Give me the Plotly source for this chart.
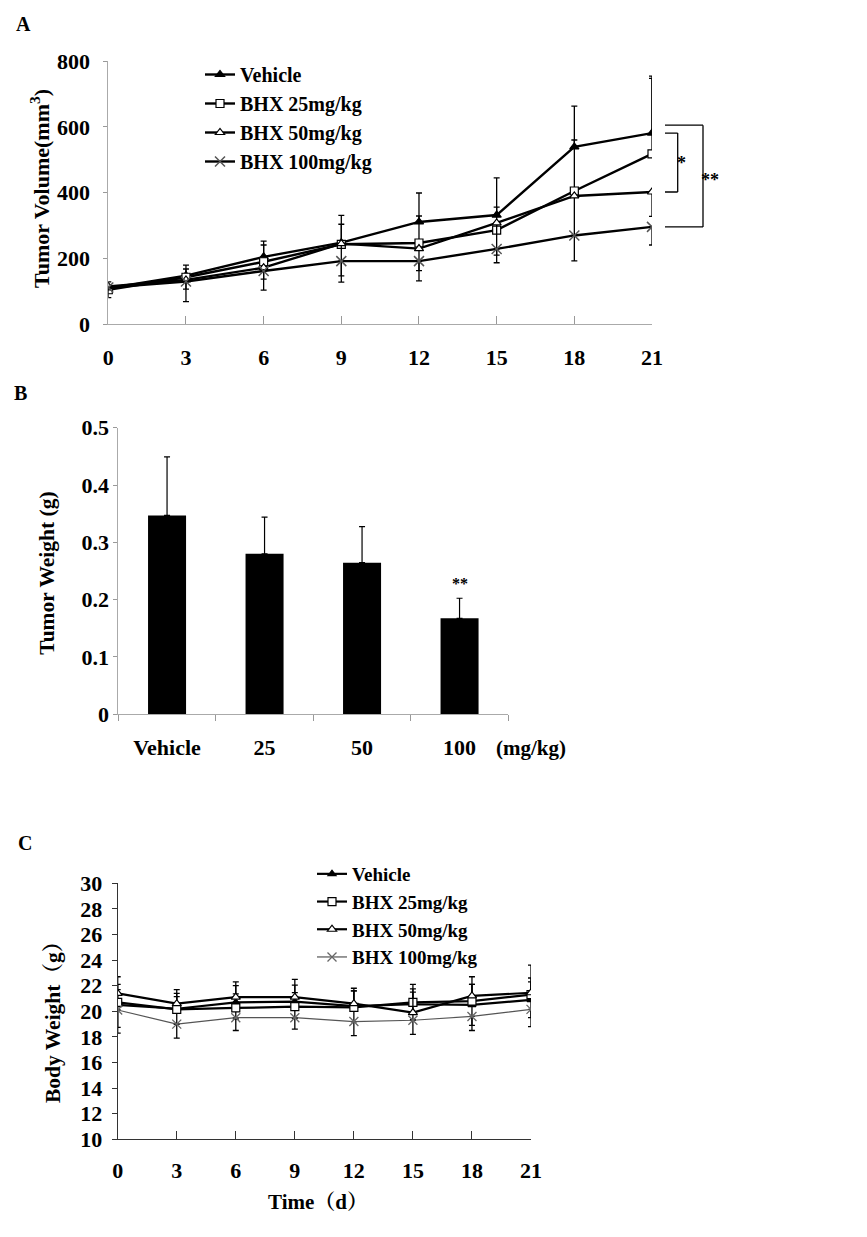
import plotly.graph_objects as go

W, H = 867, 1237
OFF = 8  # page body margin
FONT = "Liberation Serif, Times New Roman, Noto Serif CJK SC, Noto Sans CJK SC, serif"

# ---------------- Data ----------------
days = [0, 3, 6, 9, 12, 15, 18, 21]
series_names = ["Vehicle", "BHX 25mg/kg", "BHX 50mg/kg", "BHX 100mg/kg"]

# Panel A: tumor volume (mm3)
vol_vehicle = [110, 148, 205, 248, 311, 332, 539, 581]
vol_bhx25 = [105, 143, 190, 243, 247, 286, 405, 518]
vol_bhx50 = [115, 135, 172, 245, 230, 308, 390, 402]
vol_bhx100 = [112, 130, 162, 192, 192, 229, 270, 296]
vol_err_vehicle = [19, 32, 48, 83, 88, 113, 124, 173]      # plus
vol_err_bhx25 = [15, 25, 51, 61, 82, 70, 155, 229]         # plus
vol_err_bhx50 = [10, 28, 35, 98, 67, 98, 120, 74]          # minus
vol_err_bhx100 = [31, 61, 58, 64, 60, 42, 77, 55]          # minus

# Panel B: tumor weight (g)
groups = ["Vehicle", "25", "50", "100"]
weight_mean = [0.347, 0.280, 0.2645, 0.1675]
weight_err = [0.102, 0.064, 0.063, 0.035]

# Panel C: body weight (g)
bw_vehicle = [20.5, 20.2, 20.7, 20.75, 20.4, 20.55, 20.5, 20.9]
bw_bhx25 = [20.7, 20.15, 20.26, 20.36, 20.3, 20.7, 20.8, 21.3]
bw_bhx50 = [21.4, 20.6, 21.1, 21.1, 20.6, 19.9, 21.2, 21.45]
bw_bhx100 = [20.1, 19.0, 19.5, 19.5, 19.2, 19.3, 19.6, 20.15]
bw_err_vehicle = [2.2, 1.2, 1.3, 1.3, 1.2, 1.2, 1.6, 1.4]
bw_err_bhx25 = [1.0, 1.0, 1.1, 1.1, 1.3, 1.4, 1.3, 1.3]
bw_err_bhx50 = [0.7, 1.1, 1.2, 1.4, 1.2, 1.6, 1.5, 2.15]
bw_err_bhx100 = [1.35, 1.1, 1.0, 0.9, 1.1, 1.1, 1.1, 1.35]

# ---------------- helpers ----------------
def px(x):
    return (x - OFF) / W

def py(y):
    return 1 - (y - OFF) / H

fig = go.Figure()

def add_line(x, y, name, symbol, mcolor, lcolor, lw, xa, ya, legend, err_plus=None, err_minus=None,
             msize=8, mline=1.2, errsym=False, ecolor="black"):
    ey = None
    if err_plus is not None or err_minus is not None:
        if errsym:
            ey = dict(type="data", array=err_plus, symmetric=True, color=ecolor, thickness=1.3, width=3)
        else:
            ey = dict(type="data", symmetric=False,
                      array=err_plus if err_plus is not None else [0] * len(x),
                      arrayminus=err_minus if err_minus is not None else [0] * len(x),
                      color=ecolor, thickness=1.3, width=3)
    fig.add_trace(go.Scatter(
        x=x, y=y, name=name, mode="lines+markers",
        line=dict(color=lcolor, width=lw),
        marker=dict(symbol=symbol, size=msize, color=mcolor,
                    line=dict(color="black" if "x" not in symbol else mcolor, width=mline)),
        error_y=ey, xaxis=xa, yaxis=ya, legend=legend,
    ))

# Panel A
add_line(days, vol_vehicle, series_names[0], "triangle-up", "black", "black", 2.4, "x", "y", "legend",
         err_plus=vol_err_vehicle, msize=8)
add_line(days, vol_bhx25, series_names[1], "square", "white", "black", 2.4, "x", "y", "legend",
         err_plus=vol_err_bhx25, msize=8)
add_line(days, vol_bhx50, series_names[2], "triangle-up", "white", "black", 2.4, "x", "y", "legend",
         err_minus=vol_err_bhx50, msize=8)
add_line(days, vol_bhx100, series_names[3], "x-thin-open", "#555555", "black", 2.4, "x", "y", "legend",
         err_minus=vol_err_bhx100, msize=10, mline=1.5)

# Panel B
fig.add_trace(go.Bar(
    x=groups, y=weight_mean, marker=dict(color="black", line=dict(width=0)), width=0.39,
    error_y=dict(type="data", array=weight_err, arrayminus=[0] * 4, symmetric=False,
                 color="black", thickness=1.2, width=3),
    xaxis="x2", yaxis="y2", showlegend=False,
))

# Panel C
add_line(days, bw_vehicle, series_names[0], "triangle-up", "black", "black", 2.2, "x3", "y3", "legend2",
         err_plus=bw_err_vehicle, errsym=True, msize=7)
add_line(days, bw_bhx25, series_names[1], "square", "white", "black", 2.2, "x3", "y3", "legend2",
         err_plus=bw_err_bhx25, msize=8)
add_line(days, bw_bhx50, series_names[2], "triangle-up", "white", "black", 2.2, "x3", "y3", "legend2",
         err_plus=bw_err_bhx50, msize=8)
add_line(days, bw_bhx100, series_names[3], "x-thin-open", "#666666", "#555555", 1.2, "x3", "y3", "legend2",
         err_minus=bw_err_bhx100, msize=9, mline=1.3)

tickfont = dict(family=FONT, size=22, color="black", weight="bold")
common = dict(showgrid=False, zeroline=False, showline=True, linewidth=1, tickfont=tickfont,
              automargin=False)

fig.update_layout(
    width=W, height=H, margin=dict(l=0, r=0, t=0, b=0, autoexpand=False),
    paper_bgcolor="white", plot_bgcolor="white",
    font=dict(family=FONT, color="black"),
    # Panel A axes
    xaxis=dict(domain=[px(108.3), px(652)], range=[0, 21], tickvals=days, anchor="y",
               ticks="inside", ticklen=8, tickcolor="#999", linecolor="#aaa",
               ticklabelstandoff=13, **common),
    yaxis=dict(domain=[py(324.3), py(61)], range=[0, 800], dtick=200, anchor="x",
               ticks="outside", ticklen=4, tickcolor="#999", linecolor="#aaa",
               ticklabelstandoff=9, **common),
    # Panel B axes
    xaxis2=dict(domain=[px(118.3), px(508.3)], type="category", range=[-0.5, 3.5], anchor="y2",
                tickson="boundaries", ticks="outside", ticklen=6, tickcolor="#999", linecolor="#aaa",
                ticklabelstandoff=13, **common),
    yaxis2=dict(domain=[py(714.3), py(427.7)], range=[0, 0.5], dtick=0.1, anchor="x2",
                ticks="outside", ticklen=4, tickcolor="#999", linecolor="#aaa",
                ticklabelstandoff=0, **common),
    # Panel C axes
    xaxis3=dict(domain=[px(117.7), px(531)], range=[0, 21], tickvals=days, anchor="y3",
                ticks="inside", ticklen=8, tickcolor="#333", linecolor="#333",
                ticklabelstandoff=11, **common),
    yaxis3=dict(domain=[py(1139.3), py(883.3)], range=[10, 30], dtick=2, anchor="x3",
                ticks="outside", ticklen=5, tickcolor="#333", linecolor="#333",
                ticklabelstandoff=5, **common),
    legend=dict(x=px(200), y=py(55), xanchor="left", yanchor="top", bgcolor="rgba(0,0,0,0)",
                font=dict(family=FONT, size=20, color="black", weight="bold"), itemwidth=30,
                traceorder="normal"),
    legend2=dict(x=px(312), y=py(855), xanchor="left", yanchor="top", bgcolor="rgba(0,0,0,0)",
                 font=dict(family=FONT, size=19, color="black", weight="bold"), itemwidth=30,
                 traceorder="normal"),
)

ann = []
def label(text, x, y, size=20, angle=0):
    ann.append(dict(text=text, x=px(x), y=py(y), xref="paper", yref="paper", showarrow=False,
                    textangle=angle, font=dict(family=FONT, size=size, color="black", weight="bold"),
                    xanchor="center", yanchor="middle"))

label("A", 23, 24, 20)
label("B", 20, 393, 20)
label("C", 25, 843, 20)
label("Tumor Volume(mm<sup>3</sup>)", 40, 189, 22, -90)
label("Tumor Weight (g)", 46.7, 573, 21.5, -90)
label("Body Weight（g）", 53, 1017, 21.5, -90)
label("(mg/kg)", 531, 748, 21)
label("Time（d）", 318, 1202, 21)

# significance marker in panel B
ann.append(dict(text="**", x=groups.index("100"), y=weight_mean[3] + weight_err[3], xref="x2", yref="y2",
                showarrow=False, yshift=15, font=dict(family=FONT, size=16, color="black", weight="bold")))

# brackets in panel A (derived from final-day values)
top1, bot1 = vol_vehicle[-1], vol_bhx50[-1]
top2, bot2 = vol_vehicle[-1] + 24, vol_bhx100[-1]
shapes = []
def seg(x0, y0, x1, y1):
    shapes.append(dict(type="line", xref="paper", yref="y", x0=px(x0), x1=px(x1), y0=y0, y1=y1,
                       line=dict(color="black", width=1.3)))
seg(665, top1, 677.7, top1)
seg(677.7, top1, 677.7, bot1)
seg(665, bot1, 677.7, bot1)
seg(665, top2, 703, top2)
seg(703, top2, 703, bot2)
seg(665, bot2, 703, bot2)
ann.append(dict(text="*", x=px(688), y=(top1 + bot1) / 2, xref="paper", yref="y", showarrow=False,
                font=dict(family=FONT, size=18, color="black", weight="bold")))
ann.append(dict(text="**", x=px(721), y=(top2 + bot2) / 2, xref="paper", yref="y", showarrow=False,
                yshift=-4, font=dict(family=FONT, size=18, color="black", weight="bold")))

fig.update_layout(annotations=ann, shapes=shapes)
fig.write_html("out.html")
